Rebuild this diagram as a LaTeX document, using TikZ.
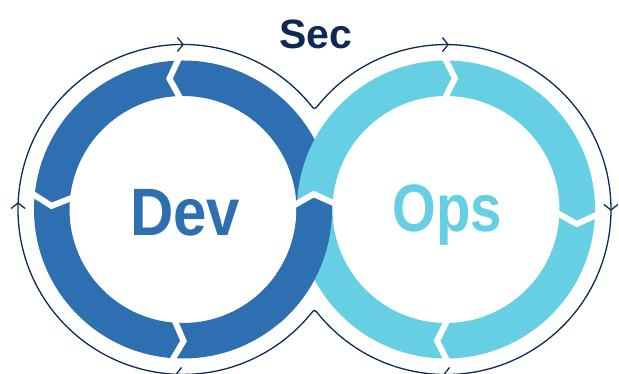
\documentclass[tikz,border=0pt]{standalone}
\usepackage{fontspec}
\setmainfont{Liberation Sans}
\usepackage{graphicx}
\definecolor{devblue}{HTML}{2E6FB2}
\definecolor{opsblue}{HTML}{66CFE3}
\definecolor{navy}{HTML}{0C2A54}
\newcommand\ringgap[3]{\draw[gapline, shift={#1}, rotate=#2] (153,{-2.03*#3}) -- (131.25,{9*#3}) -- (109.5,{-2.03*#3});}
\newcommand\looptip[2]{\draw[tiparrow, shift={#1}, rotate=#2] (-5.5,7) -- (0,0) -- (-5.5,-7);}
\begin{document}
\begin{tikzpicture}[x=1pt,y=1pt,
  gapline/.style={draw=white, line width=6pt, line join=miter, miter limit=10},
  loopline/.style={draw=navy, line width=1.3pt},
  tiparrow/.style={draw=navy, line width=1.3pt, line join=miter},
  bigword/.style={anchor=base, inner sep=0pt, font=\bfseries\fontsize{67}{72}\selectfont}]
\useasboundingbox (0,0) rectangle (619,374);
\coordinate (L) at (183,164.5);
\coordinate (R) at (446,164.5);
% rings
\fill[devblue, even odd rule] (L) circle[radius=149] (L) circle[radius=113.5];
\fill[opsblue, even odd rule] (R) circle[radius=149] (R) circle[radius=113.5];
\begin{scope}[shift={(L)}, rotate=2.8]
  \clip (90,0) -- (113.5,0) -- (131.25,9) -- (149,0) -- (175,0) -- (175,-200) -- (90,-200) -- cycle;
  \fill[devblue, even odd rule] (0,0) circle[radius=149] (0,0) circle[radius=113.5];
\end{scope}
% gaps
\foreach \a in {92,174.5,266.3,2.8} {\ringgap{(L)}{\a}{1}}
\foreach \a in {90,-2.4,270} {\ringgap{(R)}{\a}{-1}}
% outer loop
\coordinate (c1) at (310.3,269.5);
\coordinate (c2) at (318.7,59.5);
\coordinate (k1) at (314.5,64.8);
\coordinate (k2) at (314.5,264.2);
\draw[loopline] (c1) arc[start angle=39.5, end angle=320.5, radius=165] .. controls (k1) .. (c2)
  arc[start angle=219.5, end angle=500.5, radius=165] .. controls (k2) .. (c1) -- cycle;
\looptip{(183,329.5)}{0}
\looptip{(448,329.4)}{0}
\looptip{(18.1,171)}{90}
\looptip{(610.9,164)}{-90}
\looptip{(176,-0.5)}{180}
\looptip{(444,-0.5)}{180}
% texts
\node[anchor=base, inner sep=0pt, text=navy, font=\bfseries\fontsize{41}{45}\selectfont] (sec) at (316,325) {Sec};
\node[bigword, text=devblue] (dev) at (185.3,138.5) {\scalebox{0.895}[1]{Dev}};
\node[bigword, text=opsblue] (ops) at (447,142) {\scalebox{0.84}[1]{Ops}};
\end{tikzpicture}
\end{document}
